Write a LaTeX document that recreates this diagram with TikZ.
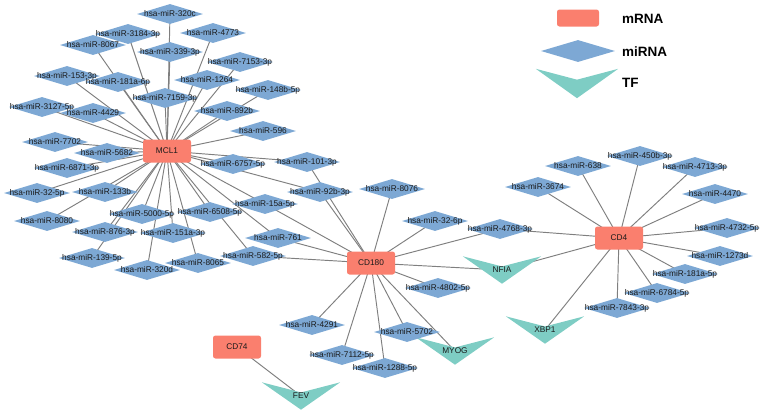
\documentclass[tikz,border=0pt]{standalone}
\usepackage{fontspec}
\setmainfont{Liberation Sans}
\usepackage{xcolor}
\usetikzlibrary{shapes.geometric,calc}
\definecolor{Salmon}{HTML}{FA7F6E}
\definecolor{SkyBlue}{HTML}{7DA8D4}
\definecolor{Teal}{HTML}{7ECDC4}
\definecolor{EdgeGray}{HTML}{7F7F7F}
\definecolor{Ink}{HTML}{1A1A1A}
\pgfdeclarelayer{edges}
\pgfdeclarelayer{shapes}
\pgfsetlayers{edges,shapes,main}
\tikzset{
  gene/.style={
    fill=Salmon, rounded corners=2.5pt, minimum width=48pt, minimum height=23pt,
    inner sep=0pt, text=Ink, font=\fontsize{8.3}{10}\selectfont
  },
  mirtext/.style={inner sep=0pt, text=Ink, font=\fontsize{8.3}{10}\selectfont},
  mir/.style={
    diamond, fill=SkyBlue, minimum width=66pt, minimum height=20pt,
    inner sep=0pt, label={[mirtext]center:#1}
  },
  tf/.style={minimum width=78pt, minimum height=27pt, inner sep=0pt, text=Ink, font=\fontsize{8.3}{10}\selectfont},
  link/.style={draw=EdgeGray, line width=.95pt},
  keytext/.style={anchor=west, inner sep=0pt, text=black, font=\fontsize{13.5}{16}\selectfont\bfseries}
}
\begin{document}
\begin{tikzpicture}[x=1pt,y=-1pt]
  \useasboundingbox (0,0) rectangle (764,413);
  % legend
  \node[gene,minimum width=42pt,minimum height=17pt] (keyM) at (578,18) {};
  \node[diamond,fill=SkyBlue,minimum width=74pt,minimum height=22pt,inner sep=0pt] (keyMi) at (578,51) {};
  \node[tf,minimum width=82pt,minimum height=29pt] (keyTF) at (577,83.5) {};
  \node[keytext] (keyMtxt) at (622,19) {mRNA};
  \node[keytext] (keyMitxt) at (622,52) {miRNA};
  \node[keytext] (keyTFtxt) at (622,83) {TF};

  % mRNA
  \node[gene] (MCL1) at (167,151) {MCL1};
  \node[gene] (CD180) at (371,263) {CD180};
  \node[gene] (CD4) at (619,238) {CD4};
  \node[gene] (CD74) at (237,347) {CD74};

  % TF
  \node[tf] (NFIA) at (502,270) {NFIA};
  \node[tf] (MYOG) at (455,351) {MYOG};
  \node[tf] (XBP1) at (545,330) {XBP1};
  \node[tf] (FEV) at (301,396) {FEV};

  % miRNA around MCL1
  \node[mir=hsa-miR-320c] (mir320c) at (170,14) {};
  \node[mir=hsa-miR-3184-3p] (mir3184) at (128,34) {};
  \node[mir=hsa-miR-4773] (mir4773) at (213,33) {};
  \node[mir=hsa-miR-8067] (mir8067) at (93,45) {};
  \node[mir=hsa-miR-339-3p] (mir339) at (170,52) {};
  \node[mir=hsa-miR-7153-3p] (mir7153) at (240,62) {};
  \node[mir=hsa-miR-153-3p] (mir153) at (67,76) {};
  \node[mir=hsa-miR-181a-6p] (mir181aa) at (118,82) {};
  \node[mir=hsa-miR-1264] (mir1264) at (207,80) {};
  \node[mir=hsa-miR-148b-5p] (mir148b) at (268,90) {};
  \node[mir=hsa-miR-7159-3p] (mir7159) at (165,98) {};
  \node[mir=hsa-miR-3127-5p] (mir3127) at (42,107) {};
  \node[mir=hsa-miR-4429] (mir4429) at (93,113) {};
  \node[mir=hsa-miR-892b] (mir892b) at (227,111) {};
  \node[mir=hsa-miR-596] (mir596) at (263,131) {};
  \node[mir=hsa-miR-7702] (mir7702) at (55,142) {};
  \node[mir=hsa-miR-5682] (mir5682) at (107,153) {};
  \node[mir=hsa-miR-6871-3p] (mir6871) at (67,168) {};
  \node[mir=hsa-miR-6757-5p] (mir6757) at (233,164) {};
  \node[mir=hsa-miR-32-5p] (mir32a) at (37,193) {};
  \node[mir=hsa-miR-133b] (mir133b) at (105,192) {};
  \node[mir=hsa-miR-8080] (mir8080) at (47,221) {};
  \node[mir=hsa-miR-5000-5p] (mir5000) at (142,214) {};
  \node[mir=hsa-miR-6508-5p] (mir6508) at (210,212) {};
  \node[mir=hsa-miR-15a-5p] (mir15a) at (265,204) {};
  \node[mir=hsa-miR-876-3p] (mir876) at (105,232) {};
  \node[mir=hsa-miR-151a-3p] (mir151a) at (173,233) {};
  \node[mir=hsa-miR-761] (mir761) at (278,238) {};
  \node[mir=hsa-miR-139-5p] (mir139) at (92,258) {};
  \node[mir=hsa-miR-320d] (mir320d) at (147,270) {};
  \node[mir=hsa-miR-8065] (mir8065) at (198,263) {};
  \node[mir=hsa-miR-582-5p] (mir582) at (253,256) {};
  \node[mir=hsa-miR-101-3p] (mir101) at (307,162) {};
  \node[mir=hsa-miR-92b-3p] (mir92b) at (320,192) {};

  % miRNA around CD180
  \node[mir=hsa-miR-8076] (mir8076) at (392,189) {};
  \node[mir=hsa-miR-32-6p] (mir32b) at (435,221) {};
  \node[mir=hsa-miR-4768-3p] (mir4768) at (500,229) {};
  \node[mir=hsa-miR-4802-5p] (mir4802) at (438,288) {};
  \node[mir=hsa-miR-4291] (mir4291) at (312,325) {};
  \node[mir=hsa-miR-5702] (mir5702) at (407,332) {};
  \node[mir=hsa-miR-7112-5p] (mir7112) at (342,355) {};
  \node[mir=hsa-miR-1288-5p] (mir1288) at (385,368) {};

  % miRNA around CD4
  \node[mir=hsa-miR-450b-3p] (mir450b) at (640,156) {};
  \node[mir=hsa-miR-638] (mir638) at (578,166) {};
  \node[mir=hsa-miR-4713-3p] (mir4713) at (695,167) {};
  \node[mir=hsa-miR-3674] (mir3674) at (538,187) {};
  \node[mir=hsa-miR-4470] (mir4470) at (715,194) {};
  \node[mir=hsa-miR-4732-5p] (mir4732) at (727,228) {};
  \node[mir=hsa-miR-1273d] (mir1273d) at (720,256) {};
  \node[mir=hsa-miR-181a-5p] (mir181ab) at (685,274) {};
  \node[mir=hsa-miR-6784-5p] (mir6784) at (657,293) {};
  \node[mir=hsa-miR-7843-3p] (mir7843) at (617,308) {};

  % TF arrowheads
  \begin{pgfonlayer}{shapes}
    \foreach \t in {NFIA,MYOG,XBP1,FEV,keyTF}
      \fill[Teal] (\t.north west) -- ($(\t.north)!.37!(\t.south)$) -- (\t.north east) -- (\t.south) -- cycle;
  \end{pgfonlayer}

  % interactions
  \begin{pgfonlayer}{edges}
    \foreach \m in {mir320c,mir3184,mir4773,mir8067,mir339,mir7153,mir153,mir181aa,mir1264,
                    mir148b,mir7159,mir3127,mir4429,mir892b,mir596,mir7702,mir5682,mir6871,
                    mir6757,mir32a,mir133b,mir8080,mir5000,mir6508,mir15a,mir876,mir151a,
                    mir761,mir139,mir320d,mir8065,mir582,mir101,mir92b}
      \draw[link] (MCL1.center) -- (\m.center);
    \foreach \m in {mir101,mir92b,mir8076,mir15a,mir761,mir582,mir32b,mir4768,NFIA,
                    mir4802,mir4291,mir7112,mir1288,mir5702,MYOG}
      \draw[link] (CD180.center) -- (\m.center);
    \foreach \m in {mir3674,mir638,mir450b,mir4713,mir4470,mir4732,mir1273d,mir181ab,
                    mir6784,mir7843,XBP1,mir4768,NFIA}
      \draw[link] (CD4.center) -- (\m.center);
    \draw[link] (CD74.center) -- (FEV.center);
  \end{pgfonlayer}
\end{tikzpicture}
\end{document}
